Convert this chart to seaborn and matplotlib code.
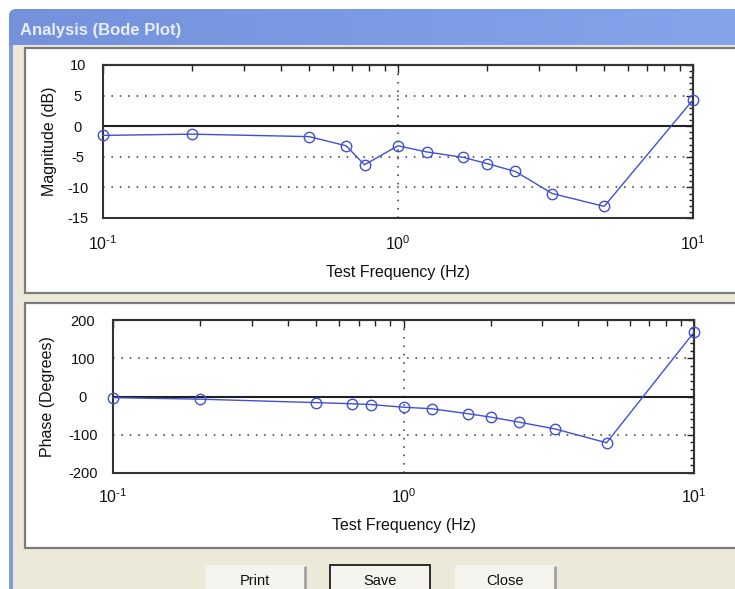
import numpy as np
import matplotlib
matplotlib.use("Agg")
import matplotlib.pyplot as plt
import seaborn as sns
import pandas as pd
from matplotlib.patches import Rectangle, FancyBboxPatch
from matplotlib.colors import LinearSegmentedColormap
from matplotlib.ticker import MultipleLocator, NullFormatter, FixedLocator, FixedFormatter

# ---- data ----
freq_hz = [0.1, 0.2, 0.5, 0.667, 0.77, 1.0, 1.25, 1.667, 2.0, 2.5, 3.333, 5.0, 10.0]
magnitude_db = [-1.5, -1.3, -1.7, -3.2, -6.3, -3.2, -4.2, -5.1, -6.1, -7.4, -11.0, -13.1, 4.3]
phase_deg = [-3, -7, -16, -19, -21, -28, -32, -45, -54, -67, -85, -121, 168]

x_ticks = [0.1, 1, 10]
x_tick_labels = [r"$\mathdefault{10^{\text{-}1}}$", r"$\mathdefault{10^{0}}$",
                 r"$\mathdefault{10^{1}}$"]
window_title = "Analysis (Bode Plot)"
x_label = "Test Frequency (Hz)"
mag_label = "Magnitude (dB)"
phase_label = "Phase (Degrees)"
button_labels = ["Print", "Save", "Close"]
mag_dotted = [5, -5, -10]
phase_dotted = [100, -100]

sns.set_style("white")
plt.rcParams["font.family"] = ["Liberation Sans", "DejaVu Sans"]
plt.rcParams["mathtext.fontset"] = "custom"
plt.rcParams["mathtext.rm"] = "Liberation Sans"
plt.rcParams["axes.unicode_minus"] = False

W, H = 735, 589
fig = plt.figure(figsize=(W / 100, H / 100), dpi=100)
fig.patch.set_facecolor("white")

# ---- window chrome (background axes in pixel coords) ----
bg = fig.add_axes([0, 0, 1, 1])
grad = np.linspace(0, 1, 256).reshape(1, -1)
cmap = LinearSegmentedColormap.from_list("xp", ["#7591DC", "#7C9BE5", "#84A5EC"])
im = bg.imshow(grad, extent=[9, 770, 60, 9], aspect="auto", cmap=cmap, zorder=1)
clip = FancyBboxPatch((9, 9), 760, 50, boxstyle="round,pad=0,rounding_size=7",
                      transform=bg.transData, fc="none", ec="none")
bg.add_patch(clip)
im.set_clip_path(clip)
bg.add_patch(Rectangle((9, 45), 760, 560, fc="#ECE9D8", ec="none", zorder=2))
bg.add_patch(Rectangle((9, 45), 4, 560, fc="#8199DE", ec="none", zorder=3))
for top, h in [(48, 245), (303, 245)]:
    bg.add_patch(Rectangle((25, top), 760, h, fc="white", ec="#7c7c7c", lw=1.6, zorder=3))
bg.text(20, 35, window_title, color="#E8EEFB", fontsize=12, fontweight="bold",
        va="baseline", ha="left", zorder=4)
btn_x = [205, 330, 455]
for bx, lab in zip(btn_x, button_labels):
    if lab == "Save":
        bg.add_patch(Rectangle((bx, 565), 100, 40, fc="#F4F3EE", ec="#1e1e1e", lw=1.3, zorder=3))
    else:
        bg.add_patch(Rectangle((bx, 565), 100, 40, fc="#F4F3EE", ec="none", zorder=3))
        bg.plot([bx + 100, bx + 100], [567, 589], color="#9a9a9a", lw=1.8, zorder=4)
    bg.text(bx + 50, 581, lab, fontsize=10.5, ha="center", va="center", color="#111", zorder=4)
bg.set_xlim(0, W)
bg.set_ylim(H, 0)
bg.axis("off")

line_c = "#4050D2"
dot_ls = (0, (1, 4.5))
df = pd.DataFrame({"freq": freq_hz, "mag": magnitude_db, "phase": phase_deg})


def bode_axes(rect, ycol, ylim, ymajor, yminor, dotted, ylabel, ypad, xpad, ylab_x, xlab_y):
    ax = fig.add_axes(rect, zorder=5)
    ax.set_facecolor("white")
    sns.lineplot(data=df, x="freq", y=ycol, ax=ax, color=line_c, lw=1.0, marker="o",
                 markersize=7.5, markerfacecolor="none", markeredgecolor=line_c,
                 markeredgewidth=1.0, estimator=None, sort=False, clip_on=False, zorder=6)
    ax.set_xscale("log")
    ax.set_xlim(0.1, 10)
    ax.set_ylim(*ylim)
    ax.xaxis.set_major_locator(FixedLocator(x_ticks))
    ax.xaxis.set_major_formatter(FixedFormatter(x_tick_labels))
    ax.yaxis.set_major_locator(MultipleLocator(ymajor))
    ax.yaxis.set_minor_locator(MultipleLocator(yminor))
    ax.xaxis.set_minor_formatter(NullFormatter())
    ax.axhline(0, color="#202020", lw=1.5, zorder=4)
    for y in dotted:
        ax.axhline(y, color="#303030", lw=1.1, ls=dot_ls, zorder=3)
    ax.axvline(1, color="#303030", lw=1.1, ls=dot_ls, zorder=3)
    for s in ax.spines.values():
        s.set_color("#333333")
        s.set_linewidth(1.5)
    ax.tick_params(which="both", top=False, right=False, direction="inout",
                   color="#222", width=1.0)
    ax.tick_params(axis="x", which="major", length=9, labelsize=11.5, pad=xpad)
    ax.tick_params(axis="x", which="minor", length=5.5)
    ax.tick_params(axis="y", which="major", length=7.5, labelsize=10.5, pad=ypad)
    ax.tick_params(axis="y", which="minor", length=4.5)
    for lab in ax.get_yticklabels():
        lab.set_horizontalalignment("center")
    # inward ticks on top and right
    sx = ax.secondary_xaxis("top")
    sx.xaxis.set_minor_formatter(NullFormatter())
    sx.tick_params(which="both", direction="in", labeltop=False, color="#222", width=1.0)
    sx.tick_params(which="major", length=6)
    sx.tick_params(which="minor", length=4)
    sy = ax.secondary_yaxis("right")
    sy.yaxis.set_major_locator(MultipleLocator(ymajor))
    sy.yaxis.set_minor_locator(MultipleLocator(yminor))
    sy.tick_params(which="both", direction="in", labelright=False, color="#222", width=1.0)
    sy.tick_params(which="major", length=5)
    sy.tick_params(which="minor", length=3)
    for s in list(sx.spines.values()) + list(sy.spines.values()):
        s.set_color("#333333")
        s.set_linewidth(1.5)
    ax.set_xlabel(x_label, fontsize=11.5, color="#111")
    ax.set_ylabel(ylabel, fontsize=11.5, color="#111")
    ax.xaxis.set_label_coords(0.5, xlab_y)
    ax.yaxis.set_label_coords(ylab_x, 0.5)
    ax.tick_params(labelcolor="#111")
    return ax


ax1 = bode_axes([103 / W, 1 - 218 / H, 590 / W, 153 / H], "mag", (-15, 10), 5, 1,
                mag_dotted, mag_label, ypad=14.3, xpad=7.5, ylab_x=-0.078, xlab_y=-0.307)
ax2 = bode_axes([113 / W, 1 - 473 / H, 581 / W, 153 / H], "phase", (-200, 200), 100, 20,
                phase_dotted, phase_label, ypad=17.9, xpad=5.5, ylab_x=-0.100, xlab_y=-0.294)

fig.savefig("out.png", dpi=100)
